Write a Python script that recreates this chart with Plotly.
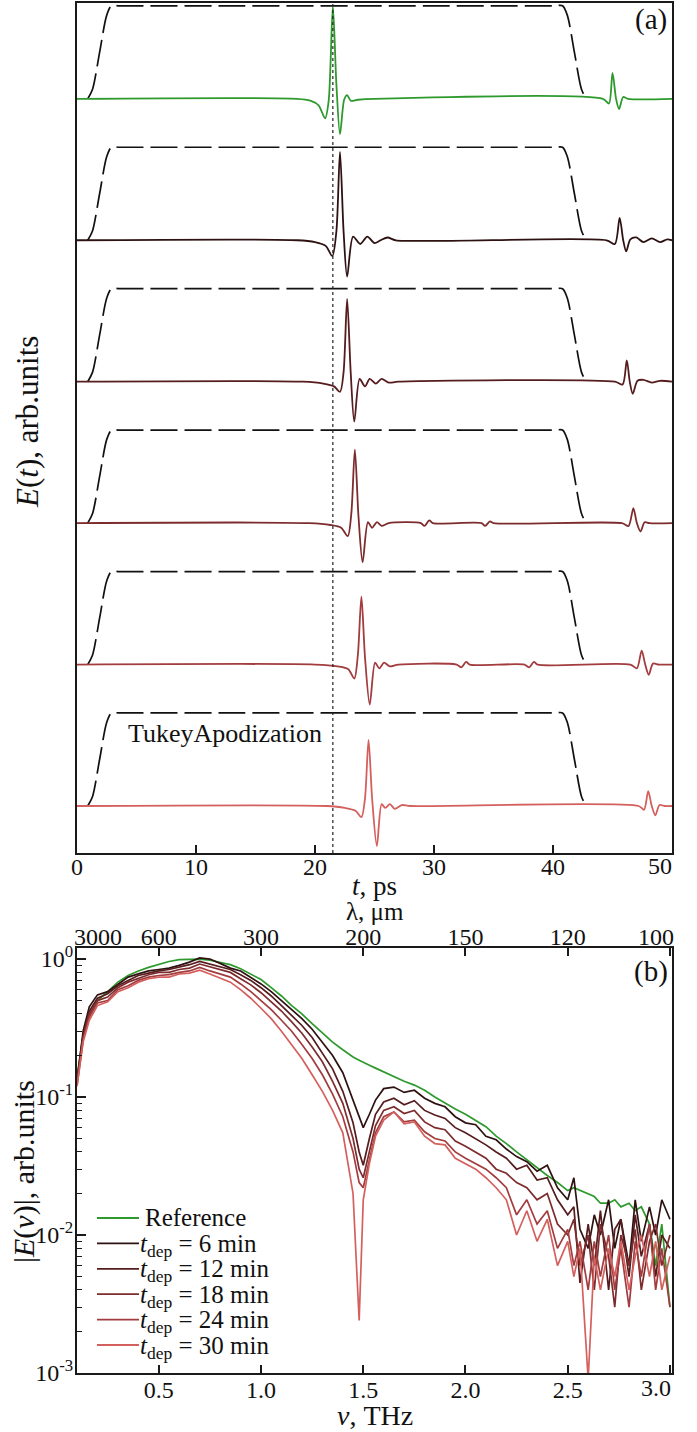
import plotly.graph_objects as go

# ---------------- data: time domain (panel a) ----------------
t_ref = [0, 18.5, 19.6, 20.3, 20.85, 21.15, 21.5, 21.8, 22.1, 22.45, 22.7, 23.0, 23.6, 25.0, 44.2, 44.7, 45.0, 45.3, 45.55, 45.9, 46.3, 50]
e_ref = [0, 0, -0.02, -0.07, -0.21, -0.02, 1.0, 0.15, -0.38, -0.01, 0.04, -0.02, -0.01, 0, 0, -0.05, 0.28, 0.0, -0.11, 0.02, 0, 0]

t_6 = [0, 18.5, 20.0, 20.9, 21.45, 21.8, 22.1, 22.4, 22.7, 23.2, 23.8, 24.4, 25.0, 25.5, 26.1, 26.8, 44.5, 45.2, 45.6, 45.9, 46.15, 46.5, 47.0, 47.6, 48.3, 49.0, 49.6, 50]
e_6 = [0, 0, -0.02, -0.06, -0.17, 0.1, 0.95, 0.1, -0.39, 0.04, -0.04, 0.04, -0.03, 0.0, 0.03, 0.0, 0, -0.04, 0.24, 0.0, -0.12, 0.01, 0.03, -0.02, 0.02, -0.02, 0.01, 0]

t_12 = [0, 19.0, 20.7, 21.6, 22.1, 22.4, 22.7, 23.0, 23.3, 23.75, 24.2, 24.6, 25.1, 25.6, 26.2, 27.0, 45.2, 45.85, 46.2, 46.45, 46.7, 47.1, 47.6, 48.3, 49.0, 50]
e_12 = [0, 0, -0.02, -0.05, -0.11, 0.1, 0.89, 0.1, -0.43, 0.03, -0.05, 0.03, -0.02, 0.03, -0.01, 0, 0, -0.03, 0.23, 0.0, -0.13, 0.01, 0.02, -0.01, 0.01, 0]

t_18 = [0, 19.5, 21.3, 22.2, 22.75, 23.05, 23.35, 23.65, 24.0, 24.45, 24.8, 25.2, 25.6, 26.2, 28.9, 29.2, 29.6, 29.9, 34.0, 34.3, 34.7, 35.0, 45.8, 46.35, 46.75, 47.05, 47.35, 47.7, 48.1, 50]
e_18 = [0, 0, -0.02, -0.05, -0.14, 0.1, 0.79, 0.08, -0.42, 0.01, -0.05, 0.01, -0.03, 0.0, 0, -0.03, 0.03, 0, 0, -0.03, 0.02, 0, 0, -0.03, 0.16, 0.0, -0.09, 0.01, 0.0, 0]

t_24 = [0, 20.0, 21.9, 22.8, 23.3, 23.6, 23.9, 24.2, 24.6, 25.05, 25.4, 25.8, 26.3, 27.0, 31.9, 32.3, 32.7, 33.0, 37.6, 38.0, 38.4, 38.7, 46.5, 47.05, 47.45, 47.75, 48.05, 48.4, 48.9, 50]
e_24 = [0, 0, -0.02, -0.05, -0.15, 0.1, 0.73, 0.08, -0.43, 0.02, -0.04, 0.02, -0.02, 0, 0, -0.03, 0.03, 0, 0, -0.03, 0.03, 0, 0, -0.04, 0.15, 0.0, -0.11, 0.01, 0.0, 0]

t_30 = [0, 21.0, 22.5, 23.4, 23.9, 24.2, 24.5, 24.8, 25.2, 25.6, 25.9, 26.3, 26.7, 27.3, 28.0, 47.2, 47.65, 48.0, 48.3, 48.6, 48.95, 49.4, 50]
e_30 = [0, 0, -0.02, -0.05, -0.12, 0.08, 0.71, 0.08, -0.43, 0.02, -0.02, 0.02, -0.03, 0.01, 0, 0, -0.04, 0.16, 0.0, -0.10, 0.01, 0, 0]

# Tukey apodization window
t_win = [0.9, 1.3, 1.9, 2.5, 2.9, 3.6, 40.1, 40.8, 41.2, 41.8, 42.4, 42.8]
w_win = [0, 0.1, 0.5, 0.9, 1.0, 1.0, 1.0, 1.0, 0.9, 0.5, 0.1, 0]

ref_peak_time = 21.5
trace_step = 1.52  # vertical spacing between stacked traces

# ---------------- data: spectra (panel b) ----------------
freq = [0.10, 0.13, 0.16, 0.20, 0.25, 0.30, 0.35, 0.40, 0.45, 0.50,
        0.55, 0.60, 0.65, 0.70, 0.75, 0.80, 0.85, 0.90, 0.95, 1.00,
        1.05, 1.10, 1.15, 1.20, 1.25, 1.30, 1.35, 1.40, 1.45, 1.48,
        1.50, 1.53, 1.56, 1.60, 1.65, 1.70, 1.75, 1.80, 1.85, 1.90,
        1.95, 2.00, 2.05, 2.10, 2.15, 2.20, 2.25, 2.30, 2.35, 2.40,
        2.45, 2.50, 2.53, 2.56, 2.60, 2.63, 2.66, 2.70, 2.73, 2.76,
        2.80, 2.83, 2.86, 2.90, 2.93, 2.96, 3.00]

s_ref = [0.14, 0.28, 0.38, 0.50, 0.58, 0.68, 0.76, 0.82, 0.87, 0.92,
         0.96, 0.99, 1.00, 1.00, 0.98, 0.95, 0.91, 0.85, 0.78, 0.71,
         0.62, 0.54, 0.46, 0.40, 0.34, 0.29, 0.25, 0.22, 0.195, 0.185,
         0.178, 0.170, 0.162, 0.152, 0.140, 0.130, 0.122, 0.112, 0.100, 0.090,
         0.082, 0.075, 0.068, 0.061, 0.052, 0.046, 0.040, 0.035, 0.031, 0.027,
         0.024, 0.021, 0.022, 0.021, 0.020, 0.019, 0.017, 0.017, 0.018, 0.016,
         0.017, 0.015, 0.016, 0.012, 0.006, 0.012, 0.003]

s_6 = [0.13, 0.30, 0.45, 0.55, 0.58, 0.66, 0.74, 0.78, 0.82, 0.84,
       0.86, 0.90, 0.95, 1.02, 1.00, 0.93, 0.86, 0.82, 0.74, 0.66,
       0.58, 0.50, 0.43, 0.37, 0.31, 0.25, 0.20, 0.15, 0.095, 0.070,
       0.060, 0.075, 0.095, 0.115, 0.118, 0.108, 0.112, 0.098, 0.090, 0.085,
       0.072, 0.065, 0.063, 0.052, 0.049, 0.042, 0.037, 0.034, 0.029, 0.032,
       0.022, 0.018, 0.026, 0.011, 0.008, 0.014, 0.010, 0.018, 0.008, 0.013,
       0.006, 0.018, 0.009, 0.016, 0.010, 0.018, 0.013]

s_12 = [0.13, 0.28, 0.42, 0.52, 0.56, 0.64, 0.70, 0.76, 0.79, 0.82,
        0.84, 0.87, 0.91, 0.96, 0.92, 0.88, 0.84, 0.77, 0.70, 0.62,
        0.54, 0.46, 0.39, 0.33, 0.27, 0.21, 0.16, 0.11, 0.065, 0.040,
        0.032, 0.050, 0.075, 0.092, 0.098, 0.088, 0.094, 0.080, 0.074, 0.070,
        0.060, 0.055, 0.050, 0.045, 0.040, 0.036, 0.030, 0.032, 0.025, 0.026,
        0.018, 0.014, 0.016, 0.0045, 0.012, 0.006, 0.015, 0.004, 0.011, 0.013,
        0.005, 0.014, 0.007, 0.012, 0.005, 0.010, 0.008]

s_18 = [0.13, 0.27, 0.40, 0.50, 0.53, 0.62, 0.68, 0.72, 0.77, 0.80,
        0.80, 0.84, 0.86, 0.92, 0.88, 0.84, 0.80, 0.72, 0.65, 0.57,
        0.49, 0.42, 0.35, 0.29, 0.23, 0.18, 0.13, 0.09, 0.050, 0.030,
        0.026, 0.040, 0.062, 0.080, 0.085, 0.076, 0.080, 0.066, 0.060, 0.058,
        0.048, 0.044, 0.040, 0.036, 0.030, 0.028, 0.024, 0.022, 0.018, 0.020,
        0.012, 0.010, 0.013, 0.006, 0.010, 0.004, 0.012, 0.007, 0.003, 0.010,
        0.006, 0.011, 0.004, 0.009, 0.012, 0.006, 0.010]

s_24 = [0.12, 0.26, 0.38, 0.48, 0.50, 0.60, 0.64, 0.70, 0.74, 0.76,
        0.77, 0.80, 0.82, 0.87, 0.82, 0.78, 0.74, 0.66, 0.58, 0.50,
        0.43, 0.36, 0.30, 0.24, 0.19, 0.145, 0.105, 0.072, 0.040, 0.024,
        0.022, 0.035, 0.055, 0.072, 0.078, 0.066, 0.068, 0.056, 0.050, 0.048,
        0.040, 0.036, 0.033, 0.030, 0.026, 0.022, 0.014, 0.018, 0.012, 0.015,
        0.008, 0.011, 0.006, 0.009, 0.004, 0.009, 0.005, 0.010, 0.004, 0.008,
        0.003, 0.009, 0.005, 0.012, 0.004, 0.008, 0.003]

s_30 = [0.12, 0.25, 0.36, 0.46, 0.49, 0.58, 0.62, 0.68, 0.72, 0.74,
        0.74, 0.78, 0.79, 0.83, 0.78, 0.73, 0.68, 0.60, 0.52, 0.44,
        0.37, 0.30, 0.24, 0.19, 0.145, 0.11, 0.08, 0.055, 0.020, 0.0024,
        0.018, 0.033, 0.052, 0.068, 0.078, 0.064, 0.066, 0.052, 0.046, 0.045,
        0.036, 0.033, 0.030, 0.026, 0.022, 0.018, 0.010, 0.015, 0.009, 0.013,
        0.006, 0.009, 0.005, 0.008, 0.0009, 0.007, 0.004, 0.008, 0.005, 0.009,
        0.004, 0.007, 0.010, 0.005, 0.009, 0.004, 0.007]

legend_names = ["Reference",
                "<i>t</i><sub>dep</sub> = 6 min",
                "<i>t</i><sub>dep</sub> = 12 min",
                "<i>t</i><sub>dep</sub> = 18 min",
                "<i>t</i><sub>dep</sub> = 24 min",
                "<i>t</i><sub>dep</sub> = 30 min"]

x_ticks_t = [0, 10, 20, 30, 40, 50]
x_ticklabels_t = ["0", "10", "20", "30", "40", ""]
x_ticks_f = [0.5, 1.0, 1.5, 2.0, 2.5, 3.0]
x_ticklabels_f = ["0.5", "1.0", "1.5", "2.0", "2.5", ""]
lambda_ticklabels = ["600", "300", "200", "150", "120", ""]
y_ticks_s = [1, 0.1, 0.01, 0.001]
y_ticklabels_s = ["10<sup>0</sup>", "10<sup>-1</sup>", "10<sup>-2</sup>", "10<sup>-3</sup>"]
edge_labels = ["50", "3.0", "100", "3000"]  # end labels set flush with the plot edges

# ---------------- styling ----------------
colors = ["#2e9a2e", "#2e1212", "#561c1e", "#7d2c2e", "#a23c3e", "#d4605e"]
FONT = "Liberation Serif"
W, H = 697, 1432
AX = "#1a1a1a"
TXT = "#111111"


def px(x):
    return x / W


def py(y):
    return 1 - y / H


fig = go.Figure()

time_sets = [(t_ref, e_ref), (t_6, e_6), (t_12, e_12), (t_18, e_18), (t_24, e_24), (t_30, e_30)]
n = len(time_sets)
for i, (tt, ee) in enumerate(time_sets):
    off = (n - 1 - i) * trace_step
    fig.add_trace(go.Scatter(x=t_win, y=[w + off for w in w_win], mode="lines",
                             line=dict(color="#111111", width=1.7, dash="27px,7px", shape="spline", smoothing=0.8),
                             showlegend=False, xaxis="x", yaxis="y", hoverinfo="skip"))
    fig.add_trace(go.Scatter(x=tt, y=[e + off for e in ee], mode="lines",
                             line=dict(color=colors[i], width=1.8, shape="spline", smoothing=0.8),
                             showlegend=False, xaxis="x", yaxis="y"))

spec_sets = [s_ref, s_6, s_12, s_18, s_24, s_30]
for i, s in enumerate(spec_sets):
    fig.add_trace(go.Scatter(x=freq, y=s, mode="lines", name=legend_names[i],
                             line=dict(color=colors[i], width=1.7), showlegend=False,
                             xaxis="x2", yaxis="y2"))

# helper trace for the top wavelength axis
fig.add_trace(go.Scatter(x=[freq[0], freq[-1]], y=[s_ref[0], s_ref[-1]], mode="lines",
                         line=dict(width=0), showlegend=False, xaxis="x3", yaxis="y2", hoverinfo="skip"))

fig.add_shape(type="line", xref="x", yref="y domain", x0=ref_peak_time, x1=ref_peak_time, y0=0, y1=1,
              line=dict(color="#222222", width=1.2, dash="dot"))

xdom = [px(77), px(672)]
tickfont = dict(family=FONT, size=24, color=TXT)
common = dict(showgrid=False, zeroline=False, showline=True, linecolor=AX, linewidth=2,
              tickcolor=AX, tickwidth=1.5, tickfont=tickfont, automargin=False)

fig.update_layout(
    width=W, height=H, margin=dict(l=0, r=0, t=0, b=0),
    paper_bgcolor="white", plot_bgcolor="white",
    font=dict(family=FONT, size=24, color=TXT),
    showlegend=False,
    xaxis=dict(domain=xdom, anchor="y", range=[0, 50], tickvals=x_ticks_t, ticktext=x_ticklabels_t,
               ticks="inside", ticklen=8, mirror=True, ticklabelstandoff=-9, **common),
    yaxis=dict(domain=[py(853), py(3)], anchor="x", range=[-0.505, 8.63], showticklabels=False,
               ticks="", mirror=True, **common),
    xaxis2=dict(domain=xdom, anchor="y2", range=[0.1, 3.01], tickvals=x_ticks_f, ticktext=x_ticklabels_f,
                ticks="inside", ticklen=8, ticklabelstandoff=-6, **common),
    xaxis3=dict(overlaying="x2", side="top", anchor="y2", range=[0.1, 3.01], tickvals=x_ticks_f,
                ticktext=lambda_ticklabels, ticks="inside", ticklen=8, ticklabelstandoff=-9, **common),
    yaxis2=dict(domain=[py(1373), py(948)], anchor="x2", type="log", range=[-3.0, 0.08],
                tickvals=y_ticks_s, ticktext=y_ticklabels_s, ticks="inside", ticklen=9, mirror=True,
                ticklabelstandoff=-3,
                minor=dict(ticks="inside", ticklen=5, tickcolor=AX, tickwidth=1.2,
                           tickvals=[m * 10 ** k for k in (-3, -2, -1) for m in range(2, 10)]),
                **common),
)

ann = [
    dict(text="(a)", x=px(651), y=py(19), size=29),
    dict(text="(b)", x=px(651), y=py(971), size=29),
    dict(text="<i>t</i>, ps", x=px(375), y=py(886), size=27),
    dict(text="λ, μm", x=px(375), y=py(911), size=25),
    dict(text=edge_labels[0], x=px(660), y=py(866), size=24),
    dict(text=edge_labels[1], x=px(656), y=py(1388), size=24),
    dict(text=edge_labels[2], x=px(656), y=py(937), size=24),
    dict(text=edge_labels[3], x=px(98), y=py(937), size=24),
    dict(text="<i>ν</i>, THz", x=px(375), y=py(1415), size=28),
    dict(text="TukeyApodization", x=px(225), y=py(733), size=26),
    dict(text="<i>E</i>(<i>t</i>), arb.units", x=px(28), y=py(422), textangle=-90, size=31),
    dict(text="|<i>E</i>(<i>ν</i>)|, arb.units", x=px(24), y=py(1172), textangle=-90, size=30),
]
for a in ann:
    size = a.pop("size")
    fig.add_annotation(xref="paper", yref="paper", showarrow=False, xanchor="center", yanchor="middle",
                       font=dict(family=FONT, size=size, color=TXT), **a)

# hand-placed legend (tight line spacing as in the original figure)
leg_y0, leg_dy = 1218, 25.4
for i, name in enumerate(legend_names):
    ly = leg_y0 + i * leg_dy
    fig.add_shape(type="line", xref="paper", yref="paper", x0=px(97), x1=px(139), y0=py(ly), y1=py(ly),
                  line=dict(color=colors[i], width=1.8))
    fig.add_annotation(xref="paper", yref="paper", showarrow=False, xanchor="left", yanchor="middle",
                       x=px(143 if i == 0 else 138), y=py(ly - 1 if i == 0 else ly + 2), text=name,
                       font=dict(family=FONT, size=25, color=TXT))

fig.write_html("out.html")
